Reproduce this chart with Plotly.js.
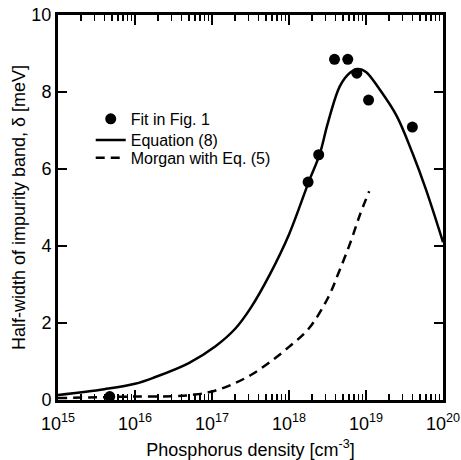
<!DOCTYPE html>
<html>
<head>
<meta charset="utf-8">
<script src="https://cdn.plot.ly/plotly-3.0.1.min.js"></script>
<style>html,body{margin:0;padding:0;background:#fff;}#chart{width:461px;height:460px;}</style>
</head>
<body>
<div id="chart"></div>
<script>
// Fit in Fig. 1 (points)
const fitDensity = [4.7e15, 1.77e18, 2.43e18, 3.9e18, 5.8e18, 7.6e18, 1.08e19, 4.0e19];
const fitWidth   = [0.09, 5.66, 6.37, 8.85, 8.85, 8.49, 7.79, 7.09];

// Equation (8) (solid)
const eqDensity = [1e15, 4e15, 1e16, 1.8e16, 5e16, 1.1e17, 2e17, 3.2e17, 5.6e17, 1e18, 1.8e18, 2.5e18, 3.2e18, 4.6e18, 6.2e18, 8e18, 1e19, 1.5e19, 2.5e19, 4e19, 6e19, 1e20];
const eqWidth   = [0.13, 0.28, 0.42, 0.59, 0.96, 1.39, 1.85, 2.4, 3.25, 4.3, 5.66, 6.38, 7.2, 8.16, 8.5, 8.6, 8.52, 8.07, 7.38, 6.42, 5.47, 4.1];

// Morgan with Eq. (5) (dashed)
const morDensity = [1e15, 3.2e15, 1e16, 3.2e16, 6e16, 1e17, 1.8e17, 3.2e17, 5.6e17, 1e18, 1.8e18, 3.2e18, 4.5e18, 6.3e18, 8.3e18, 1.1e19];
const morWidth   = [0.05, 0.07, 0.09, 0.1, 0.14, 0.22, 0.4, 0.65, 0.98, 1.38, 1.85, 2.65, 3.35, 4.1, 4.8, 5.42];

const xTickExp = [15, 16, 17, 18, 19, 20];
const xTickVals = xTickExp.map(e => Math.pow(10, e));
const xTickText = xTickExp.map(e => '10<sup>' + e + '</sup>');

const FONT = 'Liberation Sans, Arial, Helvetica, sans-serif';

const traces = [
  {x: eqDensity, y: eqWidth, type: 'scatter', mode: 'lines', name: 'Equation (8)',
   line: {color: '#000', width: 2.5, shape: 'spline'}, legend: 'legend2'},
  {x: morDensity, y: morWidth, type: 'scatter', mode: 'lines', name: 'Morgan with Eq. (5)',
   line: {color: '#000', width: 2.5, dash: '9px,6px', shape: 'spline'}, legend: 'legend3'},
  {x: fitDensity, y: fitWidth, type: 'scatter', mode: 'markers', name: 'Fit in Fig. 1',
   marker: {color: '#000', size: 11}, legend: 'legend'}
];

function leg(y) {
  return {x: 0.085, y: y, xanchor: 'left', yanchor: 'middle', bgcolor: 'rgba(0,0,0,0)',
          font: {size: 16, family: FONT, color: '#000'}, borderwidth: 0};
}

const layout = {
  width: 461, height: 460,
  margin: {l: 58, r: 18, t: 15, b: 60},
  paper_bgcolor: '#fff', plot_bgcolor: '#fff',
  font: {family: FONT, color: '#000', size: 16},
  showlegend: true,
  legend: leg(0.730),
  legend2: leg(0.675),
  legend3: leg(0.629),
  xaxis: {
    type: 'log', range: [15, 20],
    tickmode: 'array', tickvals: xTickVals, ticktext: xTickText,
    ticks: 'inside', ticklen: 10, tickwidth: 2, tickcolor: '#000',
    minor: {dtick: 'D1', ticks: 'inside', ticklen: 6, tickwidth: 1.5, tickcolor: '#000', showgrid: false},
    showline: true, linewidth: 3, linecolor: '#000', mirror: 'ticks',
    showgrid: false, zeroline: false,
    ticklabelstandoff: 5,
    tickfont: {size: 18, family: FONT},
    title: {text: 'Phosphorus density [cm<sup>-3</sup>]', font: {size: 18, family: FONT}, standoff: 11}
  },
  yaxis: {
    range: [0, 10], dtick: 2, tick0: 0,
    ticks: 'inside', ticklen: 9, tickwidth: 2, tickcolor: '#000',
    showline: true, linewidth: 3, linecolor: '#000', mirror: 'ticks',
    showgrid: false, zeroline: false,
    tickfont: {size: 18, family: FONT},
    title: {text: 'Half-width of impurity band, δ [meV]', font: {size: 18, family: FONT}, standoff: 2}
  }
};

Plotly.newPlot('chart', traces, layout, {displayModeBar: false, staticPlot: true});
</script>
</body>
</html>
